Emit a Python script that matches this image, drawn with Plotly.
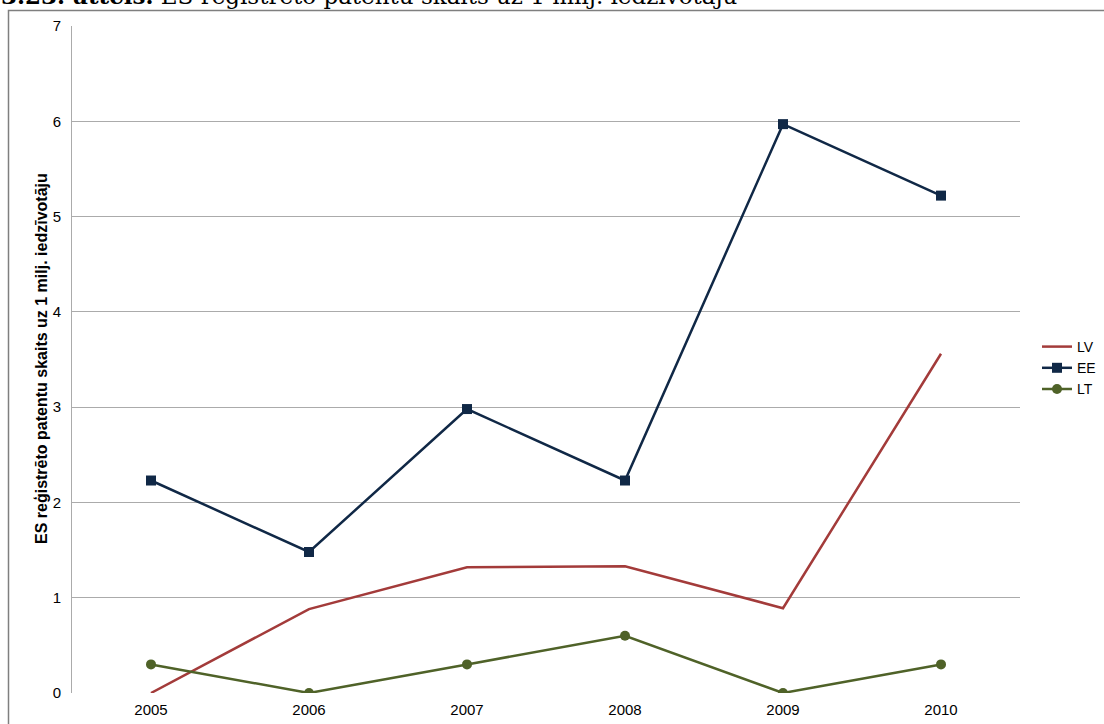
import plotly.graph_objects as go

years = ["2005", "2006", "2007", "2008", "2009", "2010"]
lv = [0.0, 0.88, 1.32, 1.33, 0.89, 3.56]
ee = [2.23, 1.48, 2.98, 2.23, 5.97, 5.22]
lt = [0.30, 0.0, 0.30, 0.60, 0.0, 0.30]

colors = {"LV": "#A33B3A", "EE": "#102846", "LT": "#4F6228"}

title_bold = "3.23. attēls."
title_rest = "ES reģistrēto patentu skaits uz 1 milj. iedzīvotāju"
y_title = "ES reģistrēto patentu skaits uz 1 milj. iedzīvotāju"

W, H = 1104, 724
L, R, T, B = 72, 1020, 26, 693
pw, ph = R - L, B - T

fig = go.Figure()
fig.add_trace(go.Scatter(x=years, y=lv, name="LV", mode="lines",
                         line=dict(color=colors["LV"], width=2.5)))
fig.add_trace(go.Scatter(x=years, y=ee, name="EE", mode="lines+markers",
                         line=dict(color=colors["EE"], width=2.5),
                         marker=dict(symbol="square", size=10, color=colors["EE"])))
fig.add_trace(go.Scatter(x=years, y=lt, name="LT", mode="lines+markers",
                         line=dict(color=colors["LT"], width=2.5),
                         marker=dict(symbol="circle", size=10, color=colors["LT"])))


def px_x(x):
    return (x - L) / pw


def px_y(y):
    return (B - y) / ph


fig.update_layout(
    width=W, height=H,
    margin=dict(l=L, r=W - R, t=T, b=H - B, autoexpand=False),
    paper_bgcolor="white", plot_bgcolor="white",
    font=dict(family="Liberation Sans, Arial, sans-serif", size=15, color="black"),
    showlegend=True,
    legend=dict(x=px_x(1037), y=px_y(331), xanchor="left", yanchor="top",
                font=dict(size=14), bgcolor="rgba(0,0,0,0)", itemwidth=30,
                tracegroupgap=0),
    xaxis=dict(type="category", range=[-0.5, 5.5], showgrid=False,
               showline=False, zeroline=False, ticks="",
               ticklabelstandoff=6, tickfont=dict(size=15)),
    yaxis=dict(range=[0, 7], dtick=1, showgrid=True, gridcolor="#ABABAB",
               gridwidth=1, zeroline=False, showline=True, linecolor="#ABABAB",
               linewidth=1, ticks="", ticklabelstandoff=7,
               tickfont=dict(size=15)),
)

fig.add_annotation(
    x=px_x(41), y=px_y(359), xref="paper", yref="paper", textangle=-90,
    text="<b>" + y_title + "</b>", showarrow=False,
    font=dict(size=16, family="Liberation Sans, Arial, sans-serif"),
    xanchor="center", yanchor="middle")

fig.add_annotation(
    x=px_x(-1), y=px_y(11.5), xref="paper", yref="paper",
    text="<b>" + title_bold + "</b> " + title_rest, showarrow=False,
    font=dict(size=23, family="DejaVu Serif, serif", color="black"),
    xanchor="left", yanchor="bottom", align="left")

fig.add_shape(type="rect", xref="paper", yref="paper",
              x0=px_x(8.5), x1=px_x(1130), y0=px_y(760), y1=px_y(10.5),
              line=dict(color="#7F7F7F", width=1.5), fillcolor="rgba(0,0,0,0)",
              layer="below")

fig.write_html("out.html",
               config={"displayModeBar": False},
               post_script="document.body.style.margin='0';document.body.style.overflow='hidden';")
